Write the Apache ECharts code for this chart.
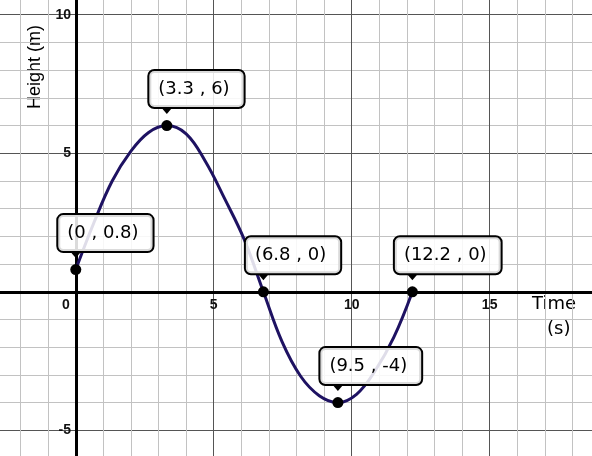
<!DOCTYPE html>
<html>
<head>
<meta charset="utf-8">
<script src="https://cdn.jsdelivr.net/npm/echarts@6/dist/echarts.min.js"></script>
<style>
	html, body { margin: 0; padding: 0; background: #fff; }
	#chart { width: 592px; height: 456px; }
</style>
</head>
<body>
<div id="chart"></div>
<script>
	// curve (time in s, height in m)
	const curveX = [0, 0.66, 1.32, 1.98, 2.64, 3.3, 4.0, 4.7, 5.4, 6.1, 6.8, 7.475, 8.15, 8.825, 9.5, 10.175, 10.85, 11.525, 12.2]
	const curveY = [0.8, 2.5, 4.0, 5.05, 5.75, 6, 5.7, 4.7, 3.35, 1.9, 0, -1.8, -3.05, -3.75, -4, -3.7, -2.85, -1.65, 0]
	// labelled points
	const pointX = [0, 3.3, 6.8, 9.5, 12.2]
	const pointY = [0.8, 6, 0, -4, 0]
	const pointText = ['(0 , 0.8)', '(3.3 , 6)', '(6.8 , 0)', '(9.5 , -4)', '(12.2 , 0)']
	const xLabels = [0, 5, 10, 15]
	const yLabels = [-5, 5, 10]

	const light = '#c2c2c2'
	const dark = '#555'
	const chart = echarts.init(document.getElementById('chart'))

	const curve = curveX.map((x, i) => [x, curveY[i]])
	const points = pointX.map((x, i) => ({ value: [x, pointY[i]], name: pointText[i] }))

	// label-only axes, shifted so their labels sit on the zero lines
	const labelFont = { fontFamily: 'Liberation Sans', fontSize: 14, fontWeight: 'bold', color: '#111' }

	const option = {
		animation: false,
		grid: { left: -7, right: -8, top: -13, bottom: -2, containLabel: false, outerBoundsMode: 'none' },
		xAxis: [{
			type: 'value', min: -3, max: 19, interval: 1,
			axisLine: { onZero: true, lineStyle: { color: '#000', width: 3 } },
			axisTick: { show: false },
			axisLabel: { show: false },
			splitLine: { lineStyle: { color: [light, light, light, dark, light], width: 1 } }
		}, {
			type: 'value', min: -3, max: 19, interval: 1, position: 'bottom', offset: -166,
			axisLine: { show: false, onZero: false },
			axisTick: { show: false },
			splitLine: { show: false },
			axisLabel: Object.assign({
				margin: 6,
				formatter: v => {
					if (v === 0) return '{z|0}'
					return xLabels.includes(v) ? String(v) : ''
				},
				rich: { z: Object.assign({ padding: [0, 20, 0, 0] }, labelFont) }
			}, labelFont)
		}],
		yAxis: [{
			type: 'value', min: -6, max: 11, interval: 1,
			axisLine: { onZero: true, lineStyle: { color: '#000', width: 3 } },
			axisTick: { show: false },
			axisLabel: { show: false },
			splitLine: { lineStyle: { color: [light, dark, light, light, light], width: 1 } }
		}, {
			type: 'value', min: -6, max: 11, interval: 1, position: 'left', offset: -83,
			axisLine: { show: false, onZero: false },
			axisTick: { show: false },
			splitLine: { show: false },
			axisLabel: Object.assign({
				margin: 5,
				formatter: v => yLabels.includes(v) ? String(v) : ''
			}, labelFont)
		}],
		graphic: [
			{ type: 'text', left: 26, top: 25, rotation: Math.PI / 2,
				style: { text: 'Height (m)', font: '18px Liberation Sans', fill: '#000' } },
			{ type: 'text', left: 532, top: 295,
				style: { text: 'Time', font: '18px DejaVu Sans', fill: '#000' } },
			{ type: 'text', left: 547, top: 320,
				style: { text: '(s)', font: '18px DejaVu Sans', fill: '#000' } }
		],
		series: [
			{
				type: 'line', data: curve, smooth: 0.4, symbol: 'none',
				lineStyle: { color: '#1e1262', width: 3 }, z: 3
			},
			{
				type: 'scatter', data: points, symbol: 'triangle', symbolRotate: 180,
				symbolSize: [12, 7], symbolOffset: [0, -15],
				itemStyle: { color: '#000', opacity: 1 }, z: 5
			},
			{
				type: 'scatter', data: points, symbolSize: 11,
				itemStyle: { color: '#000', opacity: 1 }, z: 6,
				label: {
					show: true, position: [-12, -49], align: 'left', verticalAlign: 'top',
					formatter: p => p.name,
					fontFamily: 'DejaVu Sans', fontSize: 18, lineHeight: 20, color: '#000',
					backgroundColor: 'rgba(255,255,255,0.86)',
					borderColor: '#000', borderWidth: 2, borderRadius: 5,
					padding: [8, 14, 8, 9],
					textBorderWidth: 0, shadowBlur: 0, shadowColor: 'transparent'
				}
			}
		]
	}
	chart.setOption(option)
</script>
</body>
</html>
